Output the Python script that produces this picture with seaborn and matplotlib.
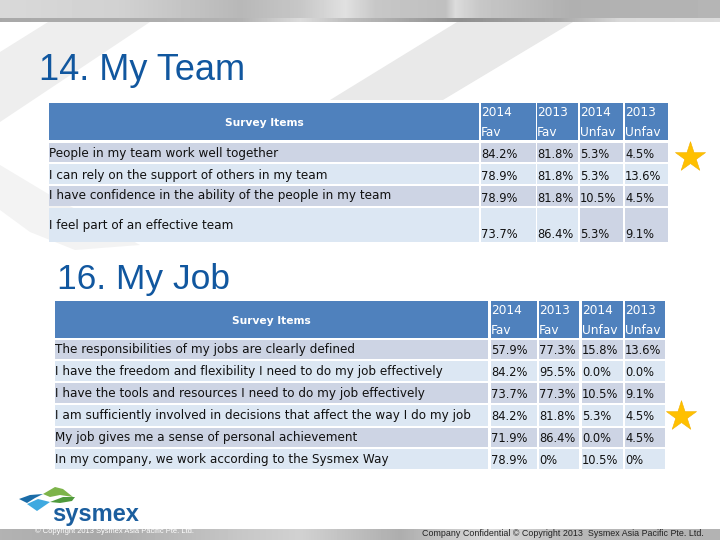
import matplotlib
matplotlib.use('Agg')
import matplotlib.pyplot as plt
from matplotlib.patches import Polygon, Rectangle
import numpy as np
import seaborn as sns

# Table contents
header_name = 'Survey Items'
col_years = ['2014', '2013', '2014', '2013']
col_kinds = ['Fav', 'Fav', 'Unfav', 'Unfav']

team_title = '14. My Team'
team_items = ['People in my team work well together',
              'I can rely on the support of others in my team',
              'I have confidence in the ability of the people in my team',
              'I feel part of an effective team']
team_fav_2014 = ['84.2%', '78.9%', '78.9%', '73.7%']
team_fav_2013 = ['81.8%', '81.8%', '81.8%', '86.4%']
team_unfav_2014 = ['5.3%', '5.3%', '10.5%', '5.3%']
team_unfav_2013 = ['4.5%', '13.6%', '4.5%', '9.1%']

job_title = '16. My Job'
job_items = ['The responsibilities of my jobs are clearly defined',
             'I have the freedom and flexibility I need to do my job effectively',
             'I have the tools and resources I need to do my job effectively',
             'I am sufficiently involved in decisions that affect the way I do my job',
             'My job gives me a sense of personal achievement',
             'In my company, we work according to the Sysmex Way']
job_fav_2014 = ['57.9%', '84.2%', '73.7%', '84.2%', '71.9%', '78.9%']
job_fav_2013 = ['77.3%', '95.5%', '77.3%', '81.8%', '86.4%', '0%']
job_unfav_2014 = ['15.8%', '0.0%', '10.5%', '5.3%', '0.0%', '10.5%']
job_unfav_2013 = ['13.6%', '0.0%', '9.1%', '4.5%', '4.5%', '0%']

footer_text = 'Company Confidential \u00a9 Copyright 2013  Sysmex Asia Pacific Pte. Ltd.'
hidden_footer = '\u00a9 Copyright 2013 Sysmex Asia Pacific Pte. Ltd.'
logo_text = 'sysmex'

sns.set_theme(style='white')
plt.rcParams['font.family'] = ['DejaVu Sans']

HEADER = '#4F81BD'
DARK_ROW = '#CDD4E4'
LIGHT_ROW = '#DCE7F3'
TITLE_BLUE = '#11579F'
TITLE_FONT = 'Liberation Sans'
BODY_SIZE = 8.65
NUM_SIZE = 8.3
HEAD_SIZE = 8.7

fig = plt.figure(figsize=(7.2, 5.4), dpi=100)
ax = fig.add_axes([0, 0, 1, 1])
ax.set_xlim(0, 720)
ax.set_ylim(540, 0)
ax.axis('off')

# grey slide bands with a soft horizontal sheen
px = np.arange(720)
top_sheen = np.interp(px, [0, 120, 240, 300, 345, 375, 445, 455, 480, 570, 720],
                      [0.85, 0.82, 0.72, 0.78, 0.88, 0.78, 0.75, 0.86, 0.78, 0.69, 0.71])
top_strip = np.interp(px, [0, 150, 240, 300, 350, 460, 560, 620, 720],
                      [0.66, 0.68, 0.70, 0.86, 0.74, 0.56, 0.66, 0.85, 0.86])
top_band = np.vstack([top_sheen] * 18 + [top_strip] * 4)
ax.imshow(top_band, cmap='gray', vmin=0, vmax=1, extent=(0, 720, 22, 0), aspect='auto', zorder=1)
bottom_sheen = np.interp(px, [0, 100, 240, 300, 400, 490, 570, 720],
                         [0.70, 0.66, 0.78, 0.82, 0.68, 0.86, 0.72, 0.70])
bottom_band = np.vstack([bottom_sheen] * 11)
ax.imshow(bottom_band, cmap='gray', vmin=0, vmax=1, extent=(0, 720, 540, 529), aspect='auto', zorder=1)
ax.set_xlim(0, 720)
ax.set_ylim(540, 0)

# faint swooshes behind the tables
ax.add_patch(Polygon([(0, 52), (48, 22), (150, 22), (0, 122)], color='#EEEEEE', lw=0, zorder=0))
ax.add_patch(Polygon([(330, 100), (457, 22), (573, 22), (443, 100)], color='#E9E9E9', lw=0, zorder=0))
ax.add_patch(Polygon([(0, 165), (50, 195), (140, 245), (75, 250), (30, 232), (0, 210)], color='#F3F3F3', lw=0, zorder=0))


def draw_table(title, title_xy, title_size, items, columns, col_edges, header_ys, row_edges, text_ys, num_ys, dark_cells):
    ax.text(title_xy[0], title_xy[1], title, color=TITLE_BLUE, fontsize=title_size, family=TITLE_FONT,
            va='center', ha='left', zorder=4)
    # header cells
    for left, right in col_edges:
        ax.add_patch(Rectangle((left, header_ys[0]), right - left, header_ys[1] - header_ys[0],
                               color=HEADER, lw=0, zorder=2))
    first_left, first_right = col_edges[0]
    ax.text((first_left + first_right) / 2, (header_ys[0] + header_ys[1]) / 2 + 1, header_name, color='white',
            fontsize=7.7, fontweight='bold', ha='center', va='center', zorder=3)
    for j in range(4):
        x = col_edges[j + 1][0]
        ax.text(x, header_ys[0] + 10, col_years[j], color='white', fontsize=HEAD_SIZE, va='center', zorder=3)
        ax.text(x, header_ys[0] + 29, col_kinds[j], color='white', fontsize=HEAD_SIZE, va='center', zorder=3)
    # body rows
    for i, item in enumerate(items):
        top, bottom = row_edges[i]
        for j, (left, right) in enumerate(col_edges):
            color = DARK_ROW if (i, j) in dark_cells or i % 2 == 0 else LIGHT_ROW
            ax.add_patch(Rectangle((left, top), right - left, bottom - top, color=color, lw=0, zorder=2))
        ax.text(first_left, text_ys[i], item, color='#111111', fontsize=BODY_SIZE, va='center', zorder=3)
        for j, col in enumerate(columns):
            ax.text(col_edges[j + 1][0], num_ys[i], col[i], color='#111111', fontsize=NUM_SIZE,
                    va='center', zorder=3)


draw_table(team_title, (39, 70), 26, team_items,
           [team_fav_2014, team_fav_2013, team_unfav_2014, team_unfav_2013],
           [(49, 479), (481, 536), (537, 578), (580, 623), (625, 668)],
           (103, 140),
           [(143, 162), (164, 184), (186, 206), (208, 242)],
           [153, 175, 196, 225], [154, 176, 198, 234],
           {(3, 3), (3, 4)})

draw_table(job_title, (57, 280), 25.5, job_items,
           [job_fav_2014, job_fav_2013, job_unfav_2014, job_unfav_2013],
           [(55, 488), (491, 537), (539, 579), (582, 623), (625, 665)],
           (301, 338),
           [(340, 359), (361, 381), (383, 403), (405, 426), (428, 447), (449, 469)],
           [350, 372, 393, 415, 438, 459], [351, 373, 394, 417, 438, 460],
           set())

# stars next to the highlighted rows
ax.scatter([690, 681], [157, 416], marker='*', s=520, color='#FFC000', edgecolor='#F2B200', linewidth=0.4, zorder=5)

# logo
ax.add_patch(Polygon([(19, 499), (30, 495), (43, 494), (35, 498), (27, 503)], color='#1A6CA8', lw=0, zorder=3))
ax.add_patch(Polygon([(27, 504), (38, 499), (50, 502), (37, 511)], color='#3FA9E0', lw=0, zorder=3))
ax.add_patch(Polygon([(43, 494), (55, 487), (63, 489), (73, 497), (60, 495), (50, 497)], color='#7DB44A', lw=0, zorder=3))
ax.add_patch(Polygon([(50, 502), (63, 497), (75, 497), (72, 501), (60, 503)], color='#4F9A3C', lw=0, zorder=3))
ax.text(52, 514.5, logo_text, color='#1B5E9E', fontsize=17, fontweight='bold', family=TITLE_FONT,
        ha='left', va='center', zorder=3)

ax.text(422, 533.5, footer_text, color='#222222', fontsize=6.37, family=TITLE_FONT, ha='left', va='center', zorder=3)
ax.text(35, 531.5, hidden_footer, color='white', fontsize=5.4, family=TITLE_FONT, ha='left', va='center', zorder=3)

fig.savefig('out.png', dpi=100)
